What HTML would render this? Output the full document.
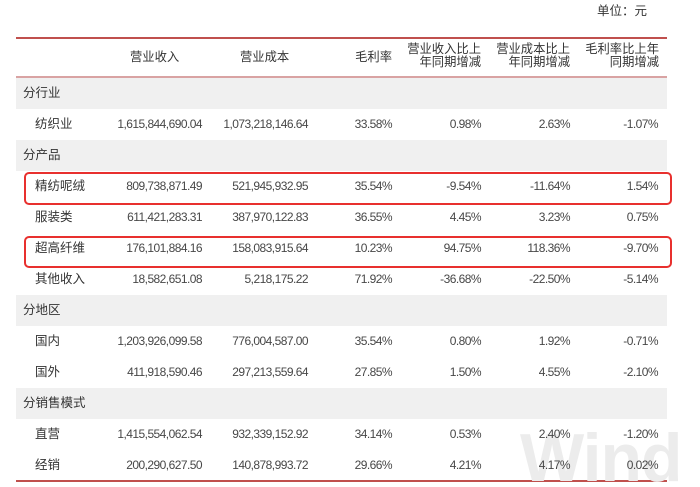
<!DOCTYPE html>
<html><head><meta charset="utf-8">
<style>
*{margin:0;padding:0;box-sizing:border-box}
html,body{width:700px;height:487px;background:#fff;overflow:hidden}
body{position:relative;font-family:"Liberation Sans","Noto Sans CJK SC",sans-serif;color:#333}
.a{position:absolute;white-space:nowrap}
.row{position:absolute;left:16px;width:651px;height:31px}
.g{background:#f0f0f0}
.t{position:absolute;font-size:12.5px;line-height:31px;white-space:nowrap}
.n{font-size:12px;letter-spacing:-0.55px;color:#474747;text-align:right}
.h{position:absolute;font-size:12.3px;line-height:13px;white-space:nowrap;color:#333;text-align:right}
.box{position:absolute;left:24px;width:648px;border:2.5px solid #e8302e;border-radius:5px}
</style></head><body>
<div class="a" style="left:597px;top:3px;font-size:12.5px;line-height:16px;color:#333">单位：元</div>
<div class="a" style="left:16px;top:37px;width:651px;height:2px;background:#c0504d"></div>
<div class="a" style="left:16px;top:76px;width:651px;height:2px;background:#d9a3a3"></div>
<div class="a" style="left:16px;top:480px;width:651px;height:2px;background:#c0504d"></div>

<div class="a" style="left:520px;top:418px;font-size:68px;font-weight:bold;color:#ececec;line-height:80px;letter-spacing:-1px">Wind</div>

<div class="h" style="left:130px;top:51px">营业收入</div>
<div class="h" style="left:240px;top:51px">营业成本</div>
<div class="h" style="right:308px;top:51px">毛利率</div>
<div class="h" style="right:219px;top:43px">营业收入比上<br>年同期增减</div>
<div class="h" style="right:130px;top:43px">营业成本比上<br>年同期增减</div>
<div class="h" style="right:41px;top:43px">毛利率比上年<br>同期增减</div>

<div class="row g" style="top:78px"></div>
<div class="row g" style="top:140px"></div>
<div class="row g" style="top:295px"></div>
<div class="row g" style="top:388px"></div>

<div class="t" style="left:23px;top:78px">分行业</div>
<div class="t" style="left:35px;top:109px">纺织业</div>
<div class="t n" style="right:498px;top:109px">1,615,844,690.04</div>
<div class="t n" style="right:392px;top:109px">1,073,218,146.64</div>
<div class="t n" style="right:308px;top:109px">33.58%</div>
<div class="t n" style="right:219px;top:109px">0.98%</div>
<div class="t n" style="right:130px;top:109px">2.63%</div>
<div class="t n" style="right:42px;top:109px">-1.07%</div>

<div class="t" style="left:23px;top:140px">分产品</div>
<div class="t" style="left:35px;top:171px">精纺呢绒</div>
<div class="t n" style="right:498px;top:171px">809,738,871.49</div>
<div class="t n" style="right:392px;top:171px">521,945,932.95</div>
<div class="t n" style="right:308px;top:171px">35.54%</div>
<div class="t n" style="right:219px;top:171px">-9.54%</div>
<div class="t n" style="right:130px;top:171px">-11.64%</div>
<div class="t n" style="right:42px;top:171px">1.54%</div>

<div class="t" style="left:35px;top:202px">服装类</div>
<div class="t n" style="right:498px;top:202px">611,421,283.31</div>
<div class="t n" style="right:392px;top:202px">387,970,122.83</div>
<div class="t n" style="right:308px;top:202px">36.55%</div>
<div class="t n" style="right:219px;top:202px">4.45%</div>
<div class="t n" style="right:130px;top:202px">3.23%</div>
<div class="t n" style="right:42px;top:202px">0.75%</div>

<div class="t" style="left:35px;top:233px">超高纤维</div>
<div class="t n" style="right:498px;top:233px">176,101,884.16</div>
<div class="t n" style="right:392px;top:233px">158,083,915.64</div>
<div class="t n" style="right:308px;top:233px">10.23%</div>
<div class="t n" style="right:219px;top:233px">94.75%</div>
<div class="t n" style="right:130px;top:233px">118.36%</div>
<div class="t n" style="right:42px;top:233px">-9.70%</div>

<div class="t" style="left:35px;top:264px">其他收入</div>
<div class="t n" style="right:498px;top:264px">18,582,651.08</div>
<div class="t n" style="right:392px;top:264px">5,218,175.22</div>
<div class="t n" style="right:308px;top:264px">71.92%</div>
<div class="t n" style="right:219px;top:264px">-36.68%</div>
<div class="t n" style="right:130px;top:264px">-22.50%</div>
<div class="t n" style="right:42px;top:264px">-5.14%</div>

<div class="t" style="left:23px;top:295px">分地区</div>
<div class="t" style="left:35px;top:326px">国内</div>
<div class="t n" style="right:498px;top:326px">1,203,926,099.58</div>
<div class="t n" style="right:392px;top:326px">776,004,587.00</div>
<div class="t n" style="right:308px;top:326px">35.54%</div>
<div class="t n" style="right:219px;top:326px">0.80%</div>
<div class="t n" style="right:130px;top:326px">1.92%</div>
<div class="t n" style="right:42px;top:326px">-0.71%</div>

<div class="t" style="left:35px;top:357px">国外</div>
<div class="t n" style="right:498px;top:357px">411,918,590.46</div>
<div class="t n" style="right:392px;top:357px">297,213,559.64</div>
<div class="t n" style="right:308px;top:357px">27.85%</div>
<div class="t n" style="right:219px;top:357px">1.50%</div>
<div class="t n" style="right:130px;top:357px">4.55%</div>
<div class="t n" style="right:42px;top:357px">-2.10%</div>

<div class="t" style="left:23px;top:388px">分销售模式</div>
<div class="t" style="left:35px;top:419px">直营</div>
<div class="t n" style="right:498px;top:419px">1,415,554,062.54</div>
<div class="t n" style="right:392px;top:419px">932,339,152.92</div>
<div class="t n" style="right:308px;top:419px">34.14%</div>
<div class="t n" style="right:219px;top:419px">0.53%</div>
<div class="t n" style="right:130px;top:419px">2.40%</div>
<div class="t n" style="right:42px;top:419px">-1.20%</div>

<div class="t" style="left:35px;top:450px">经销</div>
<div class="t n" style="right:498px;top:450px">200,290,627.50</div>
<div class="t n" style="right:392px;top:450px">140,878,993.72</div>
<div class="t n" style="right:308px;top:450px">29.66%</div>
<div class="t n" style="right:219px;top:450px">4.21%</div>
<div class="t n" style="right:130px;top:450px">4.17%</div>
<div class="t n" style="right:42px;top:450px">0.02%</div>

<div class="box" style="top:172px;height:33px"></div>
<div class="box" style="top:236px;height:32px"></div>
</body></html>
